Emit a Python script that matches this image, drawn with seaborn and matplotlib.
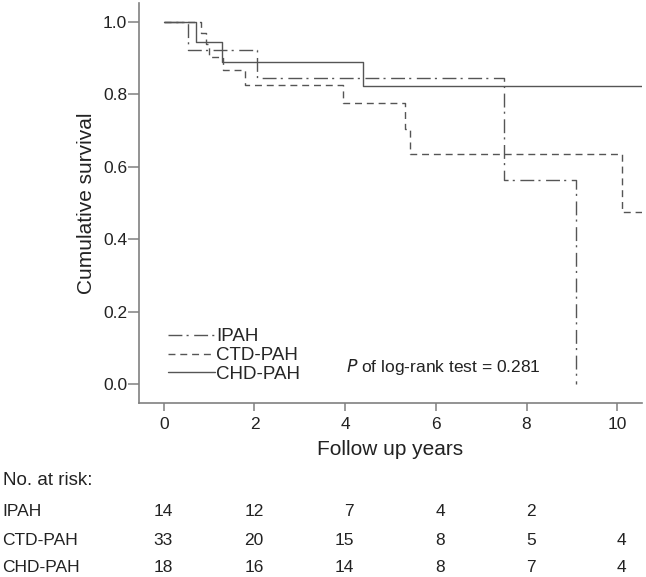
import matplotlib
matplotlib.use("Agg")
import matplotlib.pyplot as plt
from matplotlib.transforms import blended_transform_factory
import numpy as np
import pandas as pd
import seaborn as sns

# Kaplan-Meier step data
groups = ["IPAH", "CTD-PAH", "CHD-PAH"]
ipah_time = [0, 0.53, 2.05, 7.5, 9.1]
ipah_surv = [1.0, 0.923, 0.845, 0.563, 0.0]
ctd_time = [0, 0.83, 0.94, 1.0, 1.31, 1.79, 3.95, 5.33, 5.43, 10.1, 10.55]
ctd_surv = [1.0, 0.969, 0.939, 0.903, 0.866, 0.826, 0.776, 0.704, 0.635, 0.475, 0.475]
chd_time = [0, 0.72, 1.28, 4.39, 10.55]
chd_surv = [1.0, 0.943, 0.888, 0.823, 0.823]

# numbers at risk table
risk_times = [0, 2, 4, 6, 8, 10]
risk_ipah = [14, 12, 7, 4, 2, None]
risk_ctd = [33, 20, 15, 8, 5, 4]
risk_chd = [18, 16, 14, 8, 7, 4]

df = pd.concat([
    pd.DataFrame({"time": ipah_time, "surv": ipah_surv, "group": "IPAH"}),
    pd.DataFrame({"time": ctd_time, "surv": ctd_surv, "group": "CTD-PAH"}),
    pd.DataFrame({"time": chd_time, "surv": chd_surv, "group": "CHD-PAH"}),
], ignore_index=True)

sns.set_style("ticks")
plt.rcParams["font.family"] = ["Liberation Sans", "DejaVu Sans"]

gray = "#808080"
line_col = "#555555"
txt = "#222222"

fig = plt.figure(figsize=(6.46, 5.77), dpi=100)
ax = fig.add_axes([0.215, 0.3016, 0.779, 0.6935])

sns.lineplot(
    data=df, x="time", y="surv", hue="group", style="group",
    hue_order=groups, style_order=groups,
    palette={g: line_col for g in groups},
    dashes={"IPAH": (10, 3, 1.5, 4), "CTD-PAH": (5, 3.5), "CHD-PAH": ""},
    drawstyle="steps-post", estimator=None, sort=False,
    linewidth=1.0, legend=False, ax=ax,
)

ax.set_xlim(-0.55, 10.55)
ax.set_ylim(-0.052, 1.052)
ax.set_xticks([0, 2, 4, 6, 8, 10])
ax.set_yticks([0.0, 0.2, 0.4, 0.6, 0.8, 1.0])
ax.set_yticklabels(["0.0", "0.2", "0.4", "0.6", "0.8", "1.0"])
ax.tick_params(axis="y", length=8, width=1.1, color=gray, pad=0.5, labelsize=12.5, labelcolor=txt)
ax.tick_params(axis="x", length=6, width=1.1, color=gray, pad=4, labelsize=12.5, labelcolor=txt)
for s in ["top", "right"]:
    ax.spines[s].set_visible(False)
for s in ["left", "bottom"]:
    ax.spines[s].set_color(gray)
    ax.spines[s].set_linewidth(1.2)

ax.set_xlabel("Follow up years", fontsize=15, color=txt, labelpad=6)
ax.set_ylabel("Cumulative survival", fontsize=15, color=txt, labelpad=5)

ax.legend(handles=ax.lines[:3], labels=groups, loc="upper left",
          bbox_to_anchor=(0.04, 0.21), frameon=False, fontsize=13.5,
          handlelength=2.5, handletextpad=0.05, labelspacing=0.08, borderpad=0)

ax.text(4.02, 0.047, r"$\mathit{P}$ of log-rank test = 0.281", fontsize=12.5,
        ha="left", va="center", color=txt)

# number at risk table
tr = blended_transform_factory(ax.transData, fig.transFigure)
fig.text(0.004, 0.168, "No. at risk:", fontsize=13.5, va="center", color=txt)
rows = [("IPAH", risk_ipah, 0.1127), ("CTD-PAH", risk_ctd, 0.0641), ("CHD-PAH", risk_chd, 0.0173)]
for name, vals, y in rows:
    fig.text(0.004, y, name, fontsize=12.5, va="center", color=txt)
    for t, v in zip(risk_times, vals):
        if v is None:
            continue
        ax.text(t + 0.2, y, str(v), transform=tr, fontsize=12.5, ha="right",
                va="center", color=txt, clip_on=False)

fig.savefig("out.png", dpi=100)
